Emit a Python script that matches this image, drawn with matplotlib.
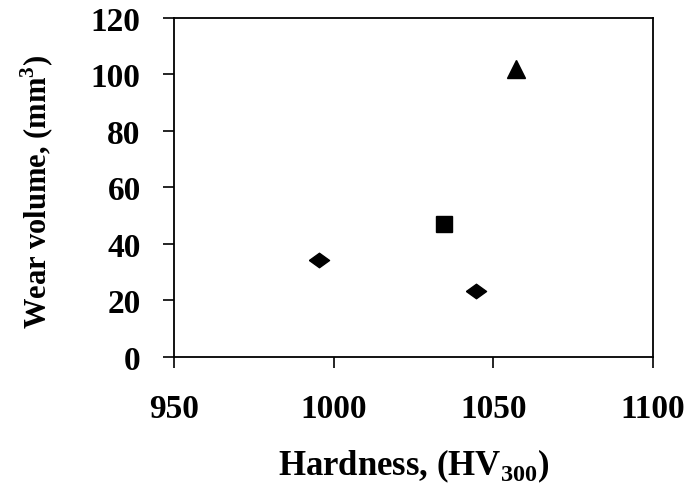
import matplotlib
matplotlib.use('Agg')
import matplotlib.pyplot as plt
import numpy as np

plt.rcParams['font.family'] = ['Liberation Serif', 'DejaVu Serif']
plt.rcParams['font.weight'] = 'bold'
plt.rcParams['mathtext.fontset'] = 'custom'
plt.rcParams['mathtext.rm'] = 'Liberation Serif:bold'
plt.rcParams['mathtext.bf'] = 'Liberation Serif:bold'

# data
diamond_x = [995.5, 1044.5]
diamond_y = [34.5, 23.5]
square_x = [1034.5]
square_y = [47]
triangle_x = [1057]
triangle_y = [102]

xticks = [950, 1000, 1050, 1100]
yticks = [0, 20, 40, 60, 80, 100, 120]

fig = plt.figure(figsize=(6.91, 4.85), dpi=100)
ax = fig.add_axes([0.2518, 0.2619, 0.6932, 0.699])

# wide, flat diamond like the original
dmark = [(-1, 0), (0, 0.72), (1, 0), (0, -0.72), (-1, 0)]
ax.plot(diamond_x, diamond_y, linestyle='none', marker=dmark, markersize=14.5, color='black')
ax.plot(square_x, square_y, linestyle='none', marker='s', markersize=12, color='black')
ax.plot(triangle_x, triangle_y, linestyle='none', marker='^', markersize=13, color='black')

ax.set_xlim(950, 1100)
ax.set_ylim(0, 120)
ax.set_xticks(xticks)
ax.set_yticks(yticks)

for s in ax.spines.values():
    s.set_linewidth(1.3)
    s.set_color('black')

ax.tick_params(axis='x', direction='out', length=8, width=1.2, pad=18, labelsize=24, top=False)
ax.tick_params(axis='y', direction='out', length=8, width=1.2, pad=16, labelsize=24, right=False)

ax.set_xlabel(r'Hardness, (HV$_{\mathbf{300}}$)', fontsize=25, fontweight='bold')
ax.set_ylabel(r'Wear volume, (mm$^{\mathbf{3}}$)', fontsize=22, fontweight='bold')
ax.xaxis.label.set_va('center')
ax.yaxis.label.set_va('center')
ax.xaxis.set_label_coords(0.5, -0.32)
ax.yaxis.set_label_coords(-0.285, 0.49)

fig.savefig('out.png', dpi=100)
